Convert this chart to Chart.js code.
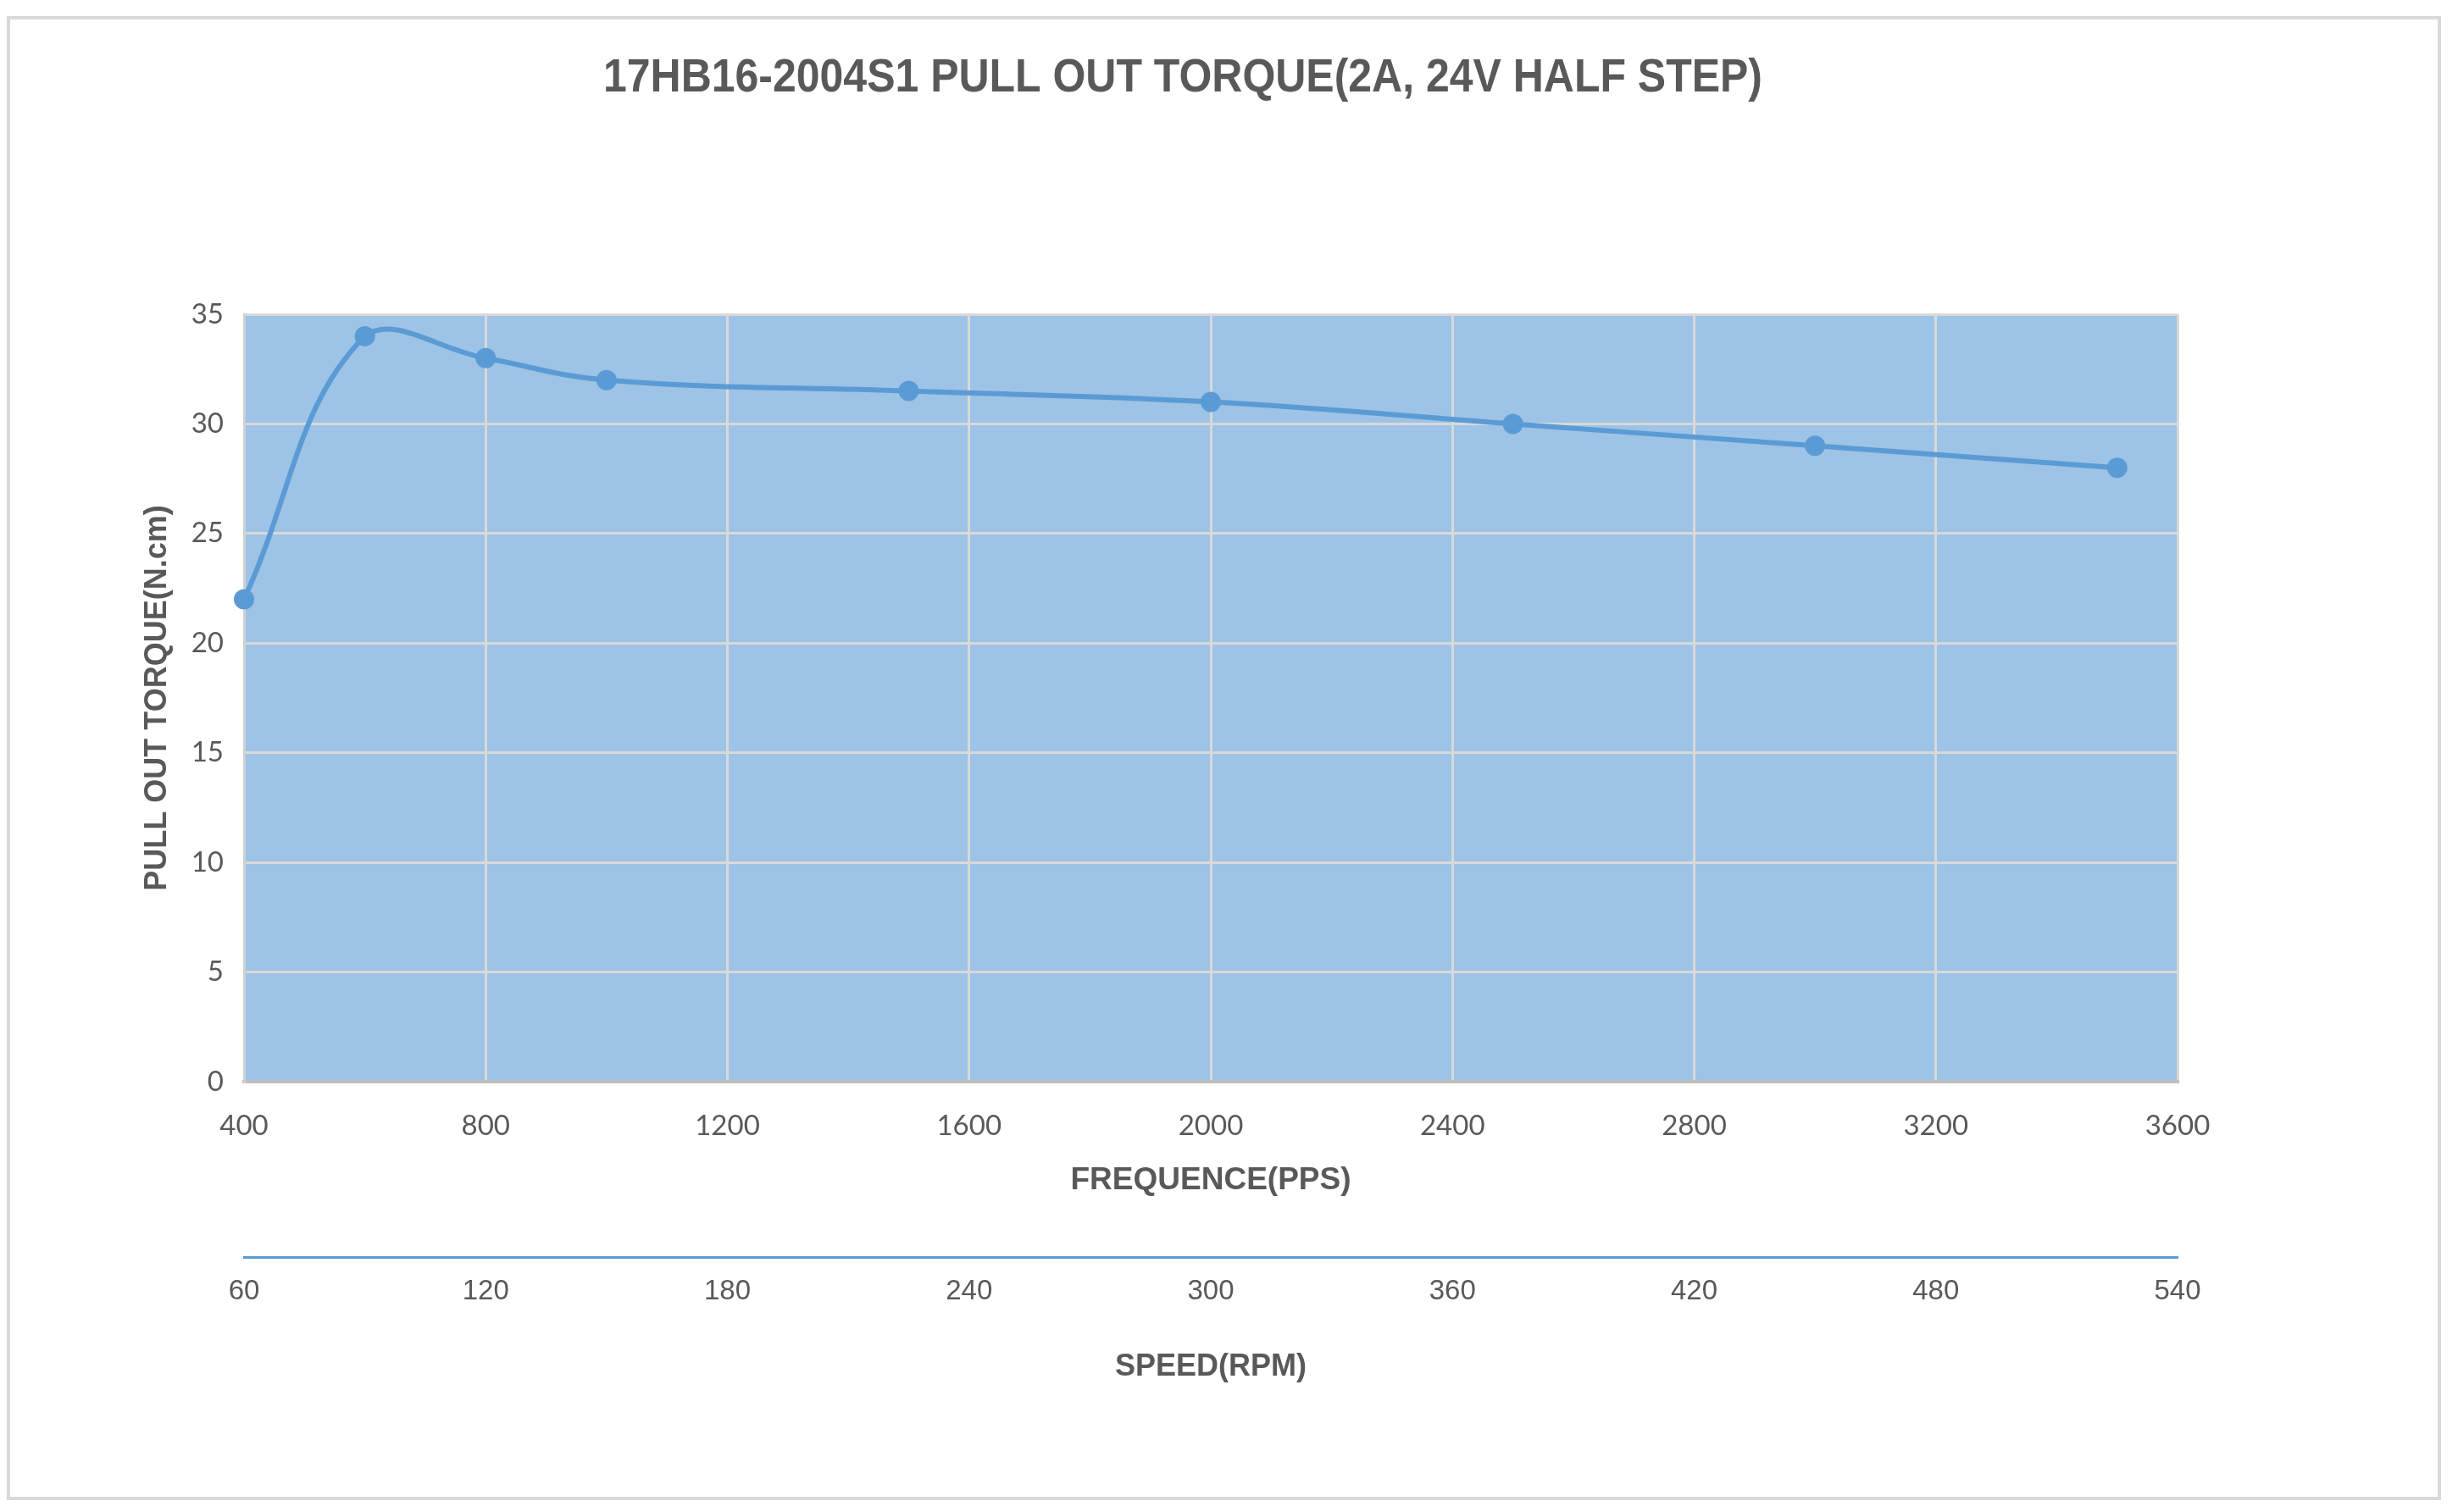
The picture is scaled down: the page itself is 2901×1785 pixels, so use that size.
<!DOCTYPE html>
<html>
<head>
<meta charset="utf-8">
<title>17HB16-2004S1 Pull Out Torque</title>
<script src="https://cdn.jsdelivr.net/npm/chart.js@4.4.1/dist/chart.umd.min.js"></script>
<style>
  html, body { margin: 0; padding: 0; background: #ffffff; }
  #wrap { width: 2901px; height: 1785px; position: relative; }
</style>
</head>
<body>
<div id="wrap"><canvas id="torqueChart" width="2901" height="1785"></canvas></div>
<script>
// data
const frequencies = [400, 600, 800, 1000, 1500, 2000, 2500, 3000, 3500];   // PPS
const torque = [22, 34, 33, 32, 31.5, 31, 30, 29, 28];                     // N.cm
const ppsRange = [400, 3600];
const ppsStep = 400;
const rpmRange = [60, 540];
const rpmStep = 60;
const torqueRange = [0, 35];
const torqueStep = 5;

const chartTitle = '17HB16-2004S1 PULL OUT TORQUE(2A, 24V HALF STEP)';
const textColor = '#595959';
const lineColor = '#5B9BD5';
const sans = '"Liberation Sans", Arial, sans-serif';
const tickFamily = 'Lato, "Open Sans", sans-serif';

// white page, outer frame, blue plot area and the (condensed) title
const framePlugin = {
  id: 'frame',
  beforeDraw(chart) {
    const ctx = chart.ctx;
    const a = chart.chartArea;
    ctx.save();
    ctx.fillStyle = '#ffffff';
    ctx.fillRect(0, 0, chart.width, chart.height);
    ctx.strokeStyle = '#D9D9D9';
    ctx.lineWidth = 4;
    ctx.strokeRect(10, 21, 2869, 1748);
    ctx.fillStyle = '#9DC3E6';
    ctx.fillRect(a.left, a.top, a.right - a.left, a.bottom - a.top);
    ctx.restore();
  },
  afterDraw(chart) {
    const ctx = chart.ctx;
    ctx.save();
    ctx.font = 'bold 56px ' + sans;
    ctx.fillStyle = textColor;
    ctx.textAlign = 'center';
    ctx.textBaseline = 'alphabetic';
    const w = ctx.measureText(chartTitle).width;
    const sx = Math.min(1, 1368 / w);
    ctx.translate(1396, 108);
    ctx.scale(sx, 1);
    ctx.fillText(chartTitle, 0, 0);
    ctx.restore();
  }
};

const plain = v => String(v);

new Chart(document.getElementById('torqueChart'), {
  type: 'line',
  data: {
    datasets: [{
      label: 'Pull out torque',
      data: frequencies.map((f, i) => ({ x: f, y: torque[i] })),
      borderColor: lineColor,
      backgroundColor: lineColor,
      borderWidth: 6,
      pointRadius: 12,
      pointBorderWidth: 0,
      pointBackgroundColor: lineColor,
      tension: 0.4,
      clip: false,
      xAxisID: 'x',
      yAxisID: 'y'
    }]
  },
  plugins: [framePlugin],
  options: {
    responsive: false,
    animation: false,
    devicePixelRatio: 1,
    layout: { padding: { left: 0, top: 371, right: 331, bottom: 106 } },
    plugins: {
      legend: { display: false },
      title: { display: false },
      tooltip: { enabled: false }
    },
    scales: {
      x: {
        type: 'linear',
        position: 'bottom',
        min: ppsRange[0],
        max: ppsRange[1],
        afterFit(scale) { scale.height = 207; },
        ticks: {
          stepSize: ppsStep,
          callback: plain,
          color: textColor,
          padding: 33,
          maxRotation: 0,
          font: { family: tickFamily, size: 33 }
        },
        grid: { color: '#D9D9D9', lineWidth: 3, drawTicks: false },
        border: { color: '#BFBFBF', width: 4 },
        title: {
          display: true,
          text: 'FREQUENCE(PPS)',
          color: textColor,
          padding: { top: 0, bottom: 68 },
          font: { family: sans, size: 37, weight: 'bold' }
        }
      },
      x2: {
        type: 'linear',
        position: 'bottom',
        min: rpmRange[0],
        max: rpmRange[1],
        afterFit(scale) { scale.height = 195; },
        ticks: {
          stepSize: rpmStep,
          callback: plain,
          color: textColor,
          padding: 21,
          maxRotation: 0,
          font: { family: sans, size: 33 }
        },
        grid: { display: false, drawTicks: false },
        border: { color: lineColor, width: 3 },
        title: {
          display: true,
          text: 'SPEED(RPM)',
          color: textColor,
          padding: { top: 0, bottom: 43 },
          font: { family: sans, size: 36, weight: 'bold' }
        }
      },
      y: {
        type: 'linear',
        position: 'left',
        min: torqueRange[0],
        max: torqueRange[1],
        afterFit(scale) { scale.width = 288; },
        ticks: {
          stepSize: torqueStep,
          callback: plain,
          color: textColor,
          padding: 24,
          font: { family: tickFamily, size: 33 }
        },
        grid: { color: '#D9D9D9', lineWidth: 3, drawTicks: false },
        border: { color: '#D0D0D0', width: 3 },
        title: {
          display: true,
          text: 'PULL OUT TORQUE(N.cm)',
          color: textColor,
          padding: { top: 164, bottom: 0 },
          font: { family: sans, size: 36, weight: 'bold' }
        }
      }
    }
  }
});
</script>
</body>
</html>
